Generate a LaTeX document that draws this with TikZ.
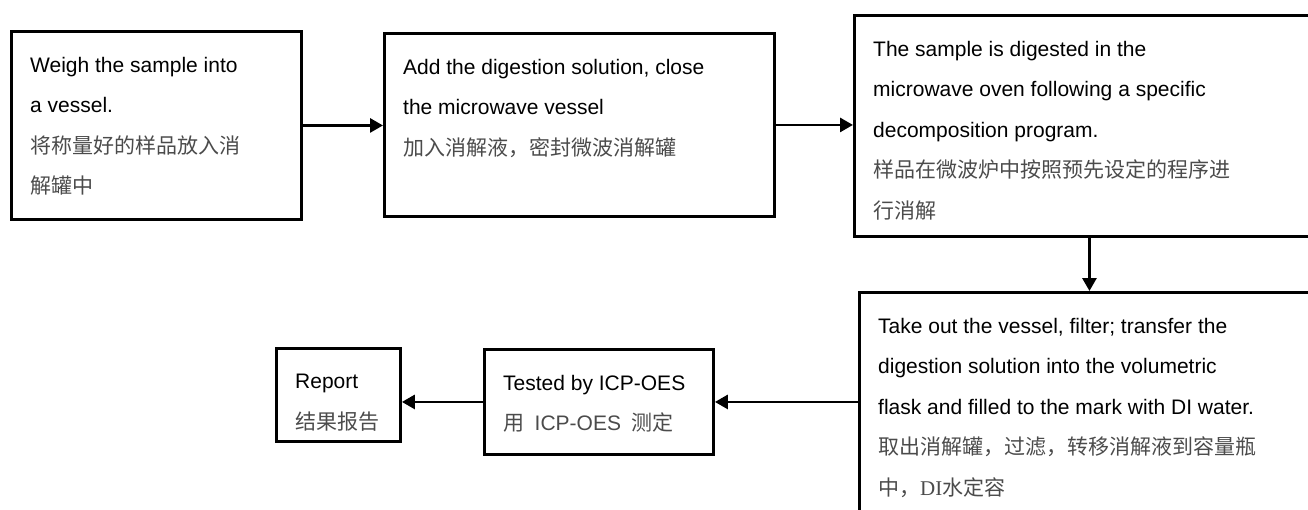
\documentclass[tikz,border=0pt]{standalone}
\usepackage{fontspec}
\setmainfont{Liberation Sans}
\newfontfamily\cjk{Noto Sans CJK SC}
\newfontfamily\timesDI{Liberation Serif}
\usetikzlibrary{positioning,arrows.meta}
\definecolor{chineseGray}{RGB}{75,75,75}
\tikzstyle{flowchart} = [x = 1pt, y = -1pt]
\tikzstyle{stepFrame} = [draw=black, line width=2.9pt, anchor=north west, inner sep=0pt]
\tikzstyle{stepText} = [anchor=north west, inner sep=0pt, align=left, font=\fontsize{21}{40.5}\selectfont]
\tikzstyle{stepArrow} = [line width=2.9pt, -{Triangle[length=13pt, width=14pt]}]
\newcommand{\cn}[1]{{\cjk\color{chineseGray}#1}}
\newcommand{\flowStep}[6]{\node [stepFrame, minimum width=#4, minimum height=#5] (#1) at (#2,#3) {};
  \node [stepText] (#1Text) at ([xshift=20pt, yshift=-27pt]#1.north west) {#6};}

\begin{document}
\begin{tikzpicture}[flowchart]
            \clip (0,0) rectangle (1308,509);
            \flowStep{weigh}{10}{30}{290pt}{188pt}{Weigh the sample into\\a vessel.\\\cn{将称量好的样品放入消}\\\cn{解罐中}}
            \flowStep{mix}{383}{32}{390pt}{183pt}{Add the digestion solution, close\\the microwave vessel\\\cn{加入消解液，密封微波消解罐}}
            \flowStep{oven}{853}{14}{470pt}{221pt}{The sample is digested in the\\microwave oven following a specific\\decomposition program.\\\cn{样品在微波炉中按照预先设定的程序进}\\\cn{行消解}}
            \flowStep{transfer}{858}{291}{470pt}{240pt}{Take out the vessel, filter; transfer the\\digestion solution into the volumetric\\flask and filled to the mark with DI water.\\\cn{取出消解罐，过滤，转移消解液到容量瓶}\\\cn{中，}{\color{chineseGray}\timesDI DI}\cn{水定容}}
            \flowStep{icp}{483}{348}{229pt}{105pt}{Tested by ICP-OES\\{\color{chineseGray}\cjk 用\enspace\rmfamily ICP-OES\enspace\cjk 测定}}
            \flowStep{report}{275}{347}{124pt}{93pt}{Report\\\cn{结果报告}}

            \draw [stepArrow] (weigh.east) -- (weigh.east -| mix.west);
            \draw [stepArrow] (mix.east) -- (mix.east -| oven.west);
            \draw [stepArrow] (oven.south) -- (oven.south |- transfer.north);
            \draw [stepArrow] (transfer.west |- icp.east) -- (icp.east);
            \draw [stepArrow] (icp.west) -- (icp.west -| report.east);
          \end{tikzpicture}
\end{document}
